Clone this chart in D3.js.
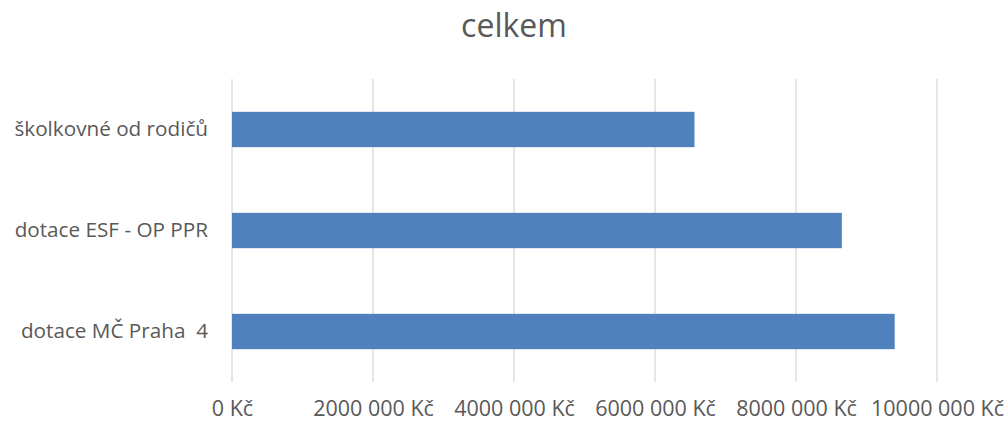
<!DOCTYPE html>
<html>
<head>
<meta charset="utf-8">
<script src="https://cdn.jsdelivr.net/npm/d3@7"></script>
<style>
	body { margin: 0; background: #fff; }
	svg text { font-family: "Open Sans", "Noto Sans", sans-serif; fill: #595959; white-space: pre; }
</style>
</head>
<body>
<div id="chart"></div>
<script>
/* horizontal bar chart: celkem */

const title = "celkem"
const categories = ["školkovné od rodičů", "dotace ESF - OP PPR", "dotace MČ Praha  4"]
const values = [6560000, 8650000, 9400000]
const tickValues = [0, 2000000, 4000000, 6000000, 8000000, 10000000]
const tickLabels = ["0 Kč", "2000 000 Kč", "4000 000 Kč", "6000 000 Kč", "8000 000 Kč", "10000 000 Kč"]

const width = 1006, height = 424
const margin = {top: 79, right: 69, bottom: 42, left: 232}

let svg = d3.select("#chart").append("svg")
	.attr("width", width)
	.attr("height", height)

let x = d3.scaleLinear()
	.domain([0, 10000000])
	.range([margin.left, width - margin.right])

let y = d3.scaleBand()
	.domain(categories)
	.range([margin.top, height - margin.bottom])
	.paddingInner(0.65)
	.paddingOuter(0.325)

// gridlines
svg.append("g")
	.selectAll("line")
	.data(tickValues)
	.join("line")
	.attr("x1", d => x(d)).attr("x2", d => x(d))
	.attr("y1", margin.top).attr("y2", height - margin.bottom)
	.attr("stroke", "#d9d9d9")
	.attr("stroke-width", 1.3)

// bars
svg.append("g")
	.selectAll("rect")
	.data(values)
	.join("rect")
	.attr("x", x(0))
	.attr("y", (d, i) => y(categories[i]))
	.attr("width", d => x(d) - x(0))
	.attr("height", y.bandwidth())
	.attr("fill", "#4f81bd")

// x axis labels
let xAxis = d3.axisBottom(x)
	.tickValues(tickValues)
	.tickFormat((d, i) => tickLabels[i])
	.tickSize(0)
	.tickPadding(0)

svg.append("g")
	.attr("transform", `translate(0,${height - margin.bottom + 19})`)
	.call(xAxis)
	.call(g => g.select(".domain").remove())
	.selectAll("text")
	.attr("dy", "0.71em")
	.style("font-size", "21.5px")
	.style("font-family", null)

// y axis labels
let yAxis = d3.axisLeft(y).tickSize(0).tickPadding(24)

svg.append("g")
	.attr("transform", `translate(${margin.left},0)`)
	.call(yAxis)
	.call(g => g.select(".domain").remove())
	.selectAll("text")
	.style("font-size", "20.7px")
	.style("font-family", null)

svg.append("text")
	.attr("x", 514)
	.attr("y", 37)
	.attr("text-anchor", "middle")
	.style("font-size", "32px")
	.text(title)
</script>
</body>
</html>
